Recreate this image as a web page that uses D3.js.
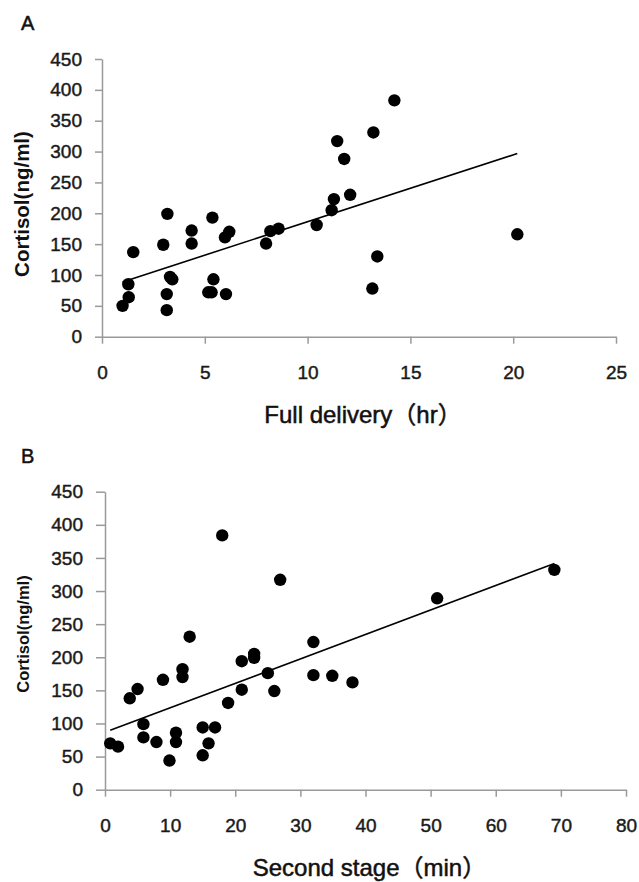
<!DOCTYPE html>
<html>
<head>
<meta charset="utf-8">
<script src="https://cdn.jsdelivr.net/npm/d3@7"></script>
<style>
  body { margin: 0; background: #fff; }
  svg { display: block; font-family: "Liberation Sans", Arial, "Noto Sans CJK JP", sans-serif; }
</style>
</head>
<body>
<script>
// panel A: full delivery time (hr) vs cortisol
const deliveryHr = [1.0, 1.3, 1.28, 1.52, 2.98, 3.18, 3.15, 3.15, 3.31, 3.42, 4.36, 4.36, 5.37, 5.17, 5.33, 5.42,
  6.03, 5.98, 6.19, 7.98, 8.19, 8.59, 10.44, 11.17, 11.28, 11.44, 11.78, 12.07, 13.2, 13.15, 13.39, 14.22, 20.2];
const cortisolA = [50, 64, 85, 137, 149, 199, 69, 43, 97, 93, 172, 151, 193, 72, 72, 93,
  69, 161, 170, 151, 171, 175, 181, 205, 223, 317, 288, 230, 331, 78, 130, 383, 166];

// panel B: second stage (min) vs cortisol
const secondMin = [0.8, 2.0, 3.8, 5.0, 5.9, 5.9, 7.9, 8.9, 9.9, 10.9, 10.9, 11.9, 11.9, 13.0, 15.0, 15.0, 15.9,
  16.9, 18.0, 18.9, 21.0, 21.0, 22.9, 22.9, 25.0, 26.0, 26.9, 32.0, 32.0, 34.9, 38.0, 51.0, 69.0];
const cortisolB = [70, 65, 138, 152, 99, 79, 72, 166, 44, 86, 72, 182, 170, 231, 52, 94, 70,
  94, 384, 131, 194, 151, 205, 199, 176, 149, 317, 223, 173, 172, 162, 289, 332];

const yTicks = d3.range(0, 451, 50);
const xTicksA = d3.range(0, 26, 5);
const xTicksB = d3.range(0, 81, 10);

const width = 639, height = 882;

const svg = d3.select("body").append("svg")
    .attr("width", width)
    .attr("height", height);

function linfit(xs, ys) {
  const mx = d3.mean(xs), my = d3.mean(ys);
  let sxy = 0, sxx = 0;
  xs.forEach((x, i) => { sxy += (x - mx) * (ys[i] - my); sxx += (x - mx) * (x - mx); });
  const b = sxy / sxx;
  return {b: b, a: my - b * mx};
}

function panel(opt) {
  const x = d3.scaleLinear().domain(opt.xdom).range([opt.left, opt.right]);
  const y = d3.scaleLinear().domain([0, 450]).range([opt.bottom, opt.top]);
  const g = svg.append("g");

  // axes
  const ya = g.append("g")
      .attr("transform", `translate(${opt.left},0)`)
      .call(d3.axisLeft(y).tickValues(yTicks).tickSize(opt.tick).tickPadding(13).tickSizeOuter(0));
  const xa = g.append("g")
      .attr("transform", `translate(0,${opt.bottom})`)
      .call(d3.axisBottom(x).tickValues(opt.xticks).tickSize(7).tickPadding(22).tickSizeOuter(0));
  [ya, xa].forEach(a => {
    a.selectAll("path, line").attr("stroke", "#9a9a9a").attr("stroke-width", 1.5);
    a.selectAll("text").attr("font-size", 19).attr("fill", "#1a1a1a")
      .attr("stroke", "#1a1a1a").attr("stroke-width", 0.45)
      .attr("font-family", "\"Liberation Sans\", Arial, sans-serif");
  });

  // trend line over data range
  const fit = linfit(opt.xs, opt.ys);
  const ext = d3.extent(opt.xs);
  g.append("line")
      .attr("x1", x(ext[0])).attr("y1", y(fit.a + fit.b * ext[0]))
      .attr("x2", x(ext[1])).attr("y2", y(fit.a + fit.b * ext[1]))
      .attr("stroke", "#000")
      .attr("stroke-width", 1.6);

  g.append("g")
    .selectAll("circle")
    .data(opt.xs.map((v, i) => [v, opt.ys[i]]))
    .join("circle")
      .attr("cx", d => x(d[0]))
      .attr("cy", d => y(d[1]))
      .attr("r", 6.2)
      .attr("fill", "#000");

  // labels
  g.append("text")
      .attr("x", 21).attr("y", opt.top - 29)
      .attr("font-size", 20)
      .attr("fill", "#111")
      .attr("stroke", "#111").attr("stroke-width", 0.5)
      .text(opt.letter);

  g.append("text")
      .attr("transform", `translate(29,${opt.ylabY}) rotate(-90)`)
      .attr("text-anchor", "middle")
      .attr("font-size", opt.ylabSize)
      .attr("font-weight", "bold")
      .attr("fill", "#111")
      .text("Cortisol(ng/ml)");

  g.append("text")
      .attr("x", (opt.left + opt.right) / 2 + 4)
      .attr("y", opt.bottom + 86)
      .attr("text-anchor", "middle")
      .attr("font-size", 24)
      .attr("fill", "#111")
      .attr("stroke", "#111").attr("stroke-width", 0.5)
      .text(opt.xlabel);
}

panel({
  letter: "A", xs: deliveryHr, ys: cortisolA, xdom: [0, 25], xticks: xTicksA,
  left: 102, right: 616, top: 59, bottom: 336.7, tick: 7,
  ylabY: 204, ylabSize: 20.5, xlabel: "Full delivery（hr）"
});

panel({
  letter: "B", xs: secondMin, ys: cortisolB, xdom: [0, 80], xticks: xTicksB,
  left: 105, right: 626, top: 491.7, bottom: 789.7, tick: 9,
  ylabY: 634, ylabSize: 16.5, xlabel: "Second stage（min）"
});
</script>
</body>
</html>
